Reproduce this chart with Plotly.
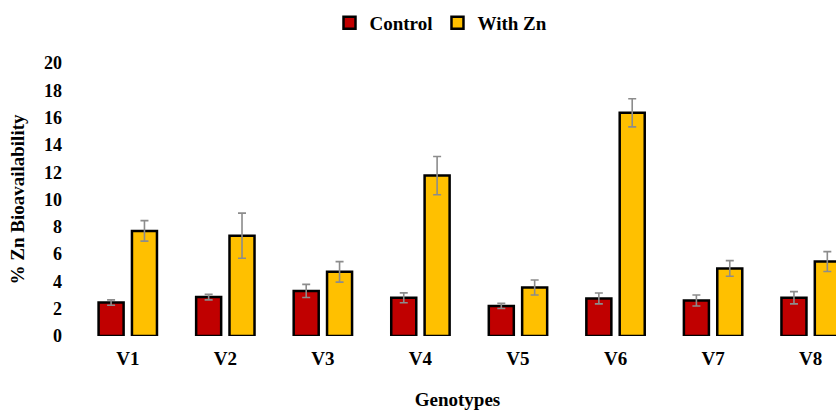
import plotly.graph_objects as go

categories = ["V1", "V2", "V3", "V4", "V5", "V6", "V7", "V8"]
control = [2.45, 2.85, 3.3, 2.8, 2.2, 2.75, 2.6, 2.8]
control_err = [0.2, 0.2, 0.48, 0.36, 0.19, 0.4, 0.4, 0.45]
with_zn = [7.7, 7.35, 4.7, 11.75, 3.55, 16.35, 4.95, 5.45]
with_zn_err = [0.75, 1.65, 0.75, 1.4, 0.55, 1.03, 0.57, 0.73]
y_ticks = [0, 2, 4, 6, 8, 10, 12, 14, 16, 18, 20]

FONT = "Liberation Serif"
err_style = dict(type="data", color="#8c8c8c", thickness=1.6, width=4)

fig = go.Figure()
fig.add_trace(go.Bar(
    name="Control", x=categories, y=control,
    error_y=dict(array=control_err, **err_style),
    marker=dict(color="#C00000", line=dict(color="black", width=2.5)),
))
fig.add_trace(go.Bar(
    name="With Zn", x=categories, y=with_zn,
    error_y=dict(array=with_zn_err, **err_style),
    marker=dict(color="#FFC000", line=dict(color="black", width=2.5)),
))

W, H = 836, 410
PLOT_L, PLOT_T, PLOT_B = 79, 63, 336
pw = W - PLOT_L
ph = PLOT_B - PLOT_T

fig.update_layout(
    width=W, height=H,
    margin=dict(l=PLOT_L, r=0, t=PLOT_T, b=H - PLOT_B, autoexpand=False),
    paper_bgcolor="white", plot_bgcolor="white",
    barmode="group", bargap=0.316, bargroupgap=0.25,
    font=dict(family=FONT, size=19, color="black", weight="bold"),
    showlegend=True,
    legend=dict(orientation="h", x=(441 - PLOT_L) / pw, xanchor="center",
                y=(PLOT_B - 23) / ph, yanchor="middle",
                font=dict(family=FONT, size=19, weight="bold"),
                itemwidth=30, tracegroupgap=0),
    xaxis=dict(range=[-0.5, 7.26], showline=False, showgrid=False, zeroline=False,
               tickfont=dict(family=FONT, size=19, weight="bold"),
               ticklabelstandoff=9,
               title=dict(text="Genotypes", font=dict(family=FONT, size=19, weight="bold"), standoff=25),
               automargin=False),
    yaxis=dict(range=[0, 20], tickvals=y_ticks, showline=False, showgrid=False, zeroline=False,
               tickfont=dict(family=FONT, size=18, weight="bold"),
               ticklabelstandoff=16,
               title=dict(text="% Zn Bioavailability", font=dict(family=FONT, size=19, weight="bold"), standoff=14),
               automargin=False),
)

fig.write_html("out.html",
               config={"displayModeBar": False},
               post_script="document.body.style.margin='0';document.body.style.overflow='hidden';")
